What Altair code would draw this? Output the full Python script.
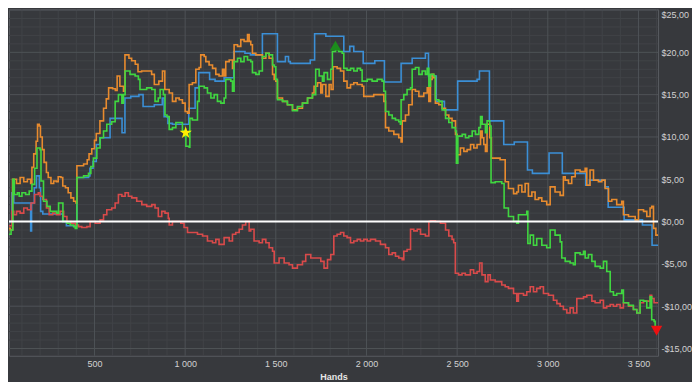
import altair as alt
import pandas as pd

# ---------------- data ----------------
blue_hands = [0, 45, 55, 148, 153, 168, 180, 196, 203, 215, 325, 345, 403, 468, 475, 492, 510, 530, 586,
              652, 668, 700, 745, 768, 830, 874, 884, 905, 930, 1020, 1055, 1075, 1135, 1165, 1215, 1268,
              1330, 1360, 1426, 1509, 1553, 1570, 1580, 1690, 1714, 1776, 1875, 1908, 1930, 1982, 2046,
              2099, 2191, 2252, 2325, 2342, 2385, 2430, 2503, 2610, 2623, 2678, 2757, 2815, 2888, 2915,
              3007, 3080, 3209, 3230, 3315, 3333, 3421, 3522, 3575, 3615]
blue_values = [0.0, 3.4, 2.2, -1.1, 2.2, 4.0, 5.4, 4.0, 1.2, 0.9, 0.0, -0.5, 5.2, 5.4, 6.3, 7.1, 9.1, 9.9, 12.2,
               10.5, 14.6, 14.8, 15.0, 13.6, 13.8, 14.6, 12.4, 11.6, 11.5, 13.4, 15.8, 17.6, 16.8, 16.6, 17.0, 20.1,
               19.9, 19.7, 22.2, 18.9, 19.5, 18.9, 18.7, 19.1, 22.2, 21.9, 20.1, 20.7, 20.1, 18.7, 19.0,
               16.5, 18.7, 19.3, 19.9, 17.2, 14.2, 13.2, 16.6, 16.8, 17.8, 11.9, 9.1, 9.4, 6.1, 5.7,
               8.1, 5.7, 4.3, 4.9, 4.1, 1.7, 0.2, -0.4, -2.8, -2.8]

orange_hands = [0, 15, 35, 48, 70, 90, 110, 130, 148, 155, 165, 178, 186, 195, 202, 212, 222, 235, 245, 260,
                275, 290, 300, 315, 325, 340, 355, 370, 385, 398, 403, 440, 460, 470, 485, 500, 510, 530, 550,
                565, 578, 600, 615, 625, 640, 660, 668, 690, 705, 725, 740, 760, 790, 815, 830, 855, 875, 888,
                912, 930, 949, 967, 985, 1000, 1013, 1022, 1040, 1059, 1077, 1086, 1105, 1114, 1132, 1151,
                1169, 1187, 1206, 1215, 1224, 1243, 1261, 1270, 1289, 1307, 1325, 1344, 1353, 1362, 1371,
                1390, 1408, 1426, 1445, 1463, 1482, 1491, 1500, 1509, 1537, 1564, 1592, 1619, 1647, 1675,
                1702, 1711, 1730, 1748, 1757, 1776, 1794, 1805, 1816, 1838, 1857, 1875, 1893, 1912, 1930,
                1949, 1976, 1985, 2013, 2040, 2077, 2096, 2105, 2123, 2151, 2178, 2191, 2197, 2215, 2233,
                2252, 2270, 2289, 2316, 2335, 2344, 2353, 2362, 2371, 2380, 2399, 2417, 2436, 2454, 2472,
                2491, 2500, 2518, 2537, 2555, 2574, 2592, 2610, 2629, 2638, 2647, 2656, 2665, 2680, 2689,
                2710, 2737, 2765, 2783, 2811, 2829, 2838, 2857, 2875, 2893, 2912, 2930, 2949, 2967, 2994,
                3013, 3040, 3068, 3086, 3096, 3114, 3132, 3151, 3178, 3206, 3215, 3233, 3252, 3279, 3298,
                3316, 3335, 3353, 3380, 3408, 3417, 3445, 3482, 3500, 3528, 3546, 3564, 3573, 3583, 3596,
                3615]
orange_values = [0.0, -0.8, -1.0, 5.0, 4.5, 5.2, 4.7, 5.0, 4.5, 6.4, 8.0, 9.5, 11.5, 11.3, 10.0, 8.5, 7.0, 5.8,
                 5.2, 4.5, 4.8, 4.7, 5.3, 5.2, 4.2, 4.0, 3.4, 2.8, 2.4, 2.2, 6.6, 6.8, 7.3, 8.0, 8.6, 9.6, 10.4,
                 11.9, 13.4, 14.5, 15.8, 15.7, 15.5, 17.2, 16.0, 15.4, 19.7, 19.3, 19.0, 18.6, 17.7, 17.8, 17.8,
                 17.4, 16.2, 16.6, 17.8, 15.6, 15.2, 14.2, 14.6, 14.4, 14.0, 13.0, 12.8, 16.2, 16.4, 18.0, 18.2,
                 19.7, 19.5, 18.9, 18.5, 18.1, 17.4, 17.2, 18.0, 17.2, 18.9, 19.1, 18.1, 20.9, 20.7, 21.5,
                 21.3, 22.1, 21.3, 20.9, 19.9, 19.7, 19.7, 19.3, 19.9, 19.3, 17.4, 16.8, 16.6, 14.6, 14.2,
                 13.8, 13.2, 13.4, 14.0, 14.6, 15.2, 16.0, 16.4, 15.2, 16.2, 14.8, 16.2, 15.6, 18.3, 18.1,
                 17.8, 16.6, 15.8, 16.2, 16.4, 16.2, 16.0, 14.8, 14.8, 15.0, 15.0, 14.2, 11.1, 10.7, 10.3,
                 9.9, 9.4, 11.9, 12.6, 13.8, 15.6, 15.4, 14.8, 15.2, 15.8, 14.2, 16.8, 17.4, 17.0, 14.0,
                 13.8, 13.4, 12.6, 12.2, 11.9, 10.3, 7.9, 8.7, 8.3, 8.5, 9.1, 8.7, 9.1, 10.7, 9.9, 9.1, 8.3,
                 11.5, 9.9, 7.5, 7.5, 7.3, 4.7, 3.9, 3.3, 3.5, 4.3, 3.5, 4.5, 3.0, 3.5, 2.6, 2.8, 2.4, 2.0,
                 4.1, 3.5, 3.1, 5.3, 4.9, 4.5, 5.3, 6.1, 5.9, 6.3, 4.3, 6.1, 4.9, 4.7, 4.9, 3.9, 2.4, 2.6,
                 2.0, 2.4, 0.8, 0.6, 0.2, 1.4, 1.2, 0.6, 1.6, 1.8, -0.8, -1.6, -1.6]

green_hands = [0, 15, 25, 40, 50, 58, 75, 85, 100, 120, 140, 155, 170, 183, 200, 205, 219, 238, 256, 292,
               302, 326, 348, 366, 385, 394, 403, 440, 467, 480, 494, 513, 531, 550, 568, 595, 614, 632,
               651, 660, 669, 696, 724, 742, 751, 788, 816, 834, 852, 862, 880, 889, 900, 912, 930, 949,
               976, 985, 1000, 1004, 1022, 1026, 1040, 1059, 1068, 1077, 1105, 1123, 1142, 1160, 1178,
               1197, 1215, 1224, 1252, 1261, 1270, 1289, 1307, 1325, 1344, 1362, 1371, 1390, 1408, 1426,
               1445, 1463, 1482, 1491, 1500, 1509, 1537, 1564, 1592, 1619, 1647, 1675, 1702, 1720, 1739,
               1757, 1766, 1785, 1803, 1812, 1829, 1847, 1866, 1875, 1893, 1912, 1930, 1949, 1967, 1976,
               2004, 2031, 2059, 2086, 2096, 2105, 2123, 2142, 2160, 2178, 2187, 2191, 2206, 2224, 2243,
               2252, 2270, 2289, 2307, 2325, 2335, 2344, 2353, 2371, 2380, 2399, 2417, 2436, 2454, 2472,
               2491, 2496, 2504, 2528, 2546, 2564, 2583, 2601, 2620, 2629, 2638, 2656, 2665, 2680, 2687,
               2710, 2746, 2759, 2783, 2811, 2829, 2838, 2866, 2884, 2890, 2903, 2921, 2939, 2967, 2994,
               3013, 3040, 3068, 3077, 3096, 3123, 3141, 3151, 3178, 3197, 3206, 3224, 3243, 3261, 3289,
               3307, 3325, 3344, 3362, 3380, 3408, 3417, 3445, 3472, 3491, 3509, 3528, 3546, 3564, 3573,
               3586, 3592, 3615]
green_values = [-0.3, -1.0, -1.5, -1.0, 5.0, 3.2, 3.4, 3.0, 3.4, 3.2, 3.6, 4.4, 6.3, 8.7, 8.5, 4.8, 2.4, 1.8,
                1.2, 1.0, 2.2, 0.0, -0.2, -0.4, -0.6, -0.8, 5.2, 5.4, 5.7, 6.5, 7.5, 8.7, 9.9, 10.7, 11.5,
                11.8, 14.2, 15.0, 14.0, 15.0, 17.8, 17.4, 17.2, 16.8, 15.6, 15.8, 15.6, 14.2, 14.6, 15.6,
                15.0, 12.6, 12.4, 10.9, 11.1, 11.7, 11.7, 10.7, 10.1, 8.9, 8.8, 12.2, 12.0, 12.0, 14.2,
                16.0, 15.8, 15.2, 14.6, 15.0, 14.2, 14.0, 14.6, 16.8, 16.6, 15.4, 18.9, 19.3, 18.9, 19.5,
                19.1, 18.9, 17.6, 17.4, 17.8, 19.5, 19.9, 19.7, 18.5, 18.3, 16.8, 14.4, 14.2, 13.8, 13.1,
                13.6, 14.0, 14.6, 15.0, 18.0, 17.2, 16.6, 17.6, 16.8, 18.0, 20.1, 20.3, 20.1, 19.9, 18.1,
                17.9, 18.1, 17.8, 18.1, 17.9, 16.6, 16.8, 16.6, 16.8, 16.6, 15.4, 13.0, 12.6, 12.2, 12.0,
                11.8, 11.5, 14.4, 15.0, 15.6, 15.8, 18.0, 18.2, 17.4, 17.8, 17.4, 18.1, 16.0, 17.4, 17.2,
                14.4, 14.2, 13.2, 12.2, 11.7, 11.1, 10.7, 6.9, 10.1, 10.3, 9.9, 10.1, 10.7, 10.3, 11.1,
                12.4, 11.5, 10.5, 11.9, 11.3, 4.6, 4.7, 4.5, 1.6, 0.6, 0.0, -0.2, 0.8, 0.8, 1.2, -2.6,
                -1.6, -2.8, -2.0, -2.8, -3.1, -1.0, -1.6, -2.4, -4.3, -4.7, -4.9, -5.1, -3.7, -3.9, -3.5,
                -4.3, -3.9, -4.7, -5.3, -5.5, -4.7, -5.9, -8.3, -8.7, -8.5, -8.1, -9.6, -9.9, -10.4,
                -10.8, -9.3, -9.4, -10.2, -8.9, -11.6, -11.8, -12.6, -12.6]

red_hands = [0, 20, 45, 55, 70, 90, 110, 130, 150, 170, 190, 200, 215, 235, 250, 270, 290, 310, 330, 348,
             370, 394, 412, 430, 458, 476, 504, 531, 550, 568, 595, 614, 632, 651, 669, 687, 706, 733, 761,
             788, 816, 834, 852, 871, 889, 907, 912, 930, 976, 994, 1013, 1068, 1096, 1123, 1151, 1169,
             1187, 1215, 1243, 1261, 1279, 1298, 1316, 1334, 1353, 1362, 1380, 1408, 1426, 1445, 1463,
             1482, 1491, 1518, 1546, 1573, 1592, 1619, 1647, 1665, 1693, 1720, 1748, 1766, 1785, 1803,
             1820, 1838, 1857, 1875, 1893, 1912, 1930, 1949, 1967, 1985, 2004, 2022, 2050, 2077, 2105,
             2123, 2142, 2160, 2178, 2197, 2206, 2224, 2243, 2261, 2280, 2298, 2325, 2344, 2353, 2380,
             2408, 2427, 2436, 2454, 2472, 2481, 2490, 2508, 2527, 2545, 2573, 2591, 2610, 2624, 2637,
             2655, 2670, 2683, 2710, 2746, 2765, 2783, 2811, 2829, 2838, 2866, 2884, 2903, 2921, 2939,
             2958, 2976, 3004, 3031, 3050, 3068, 3086, 3105, 3123, 3141, 3160, 3178, 3197, 3215, 3243,
             3261, 3289, 3307, 3325, 3344, 3362, 3380, 3399, 3417, 3445, 3472, 3491, 3509, 3528, 3546,
             3564, 3573, 3586, 3615]
red_values = [0.0, -0.5, 1.2, 0.8, 1.2, 1.0, 1.6, 1.4, 2.2, 3.2, 3.4, 3.0, 2.6, 1.6, 0.8, 1.0, 0.8, 1.2, 0.6,
              0.0, -0.2, -0.4, -0.6, -0.7, -0.6, 0.0, -0.2, 0.2, 0.8, 1.4, 1.6, 2.2, 3.2, 3.0, 3.4, 3.0,
              2.8, 2.4, 2.0, 1.8, 2.0, 1.6, 0.6, 1.2, 1.0, 0.4, -0.4, 0.0, -0.2, -0.7, -1.3, -1.5, -1.7,
              -2.3, -2.5, -2.1, -2.7, -1.9, -2.3, -1.5, -1.3, -0.9, -0.4, 0.0, -1.1, -0.9, -2.3, -2.5,
              -2.1, -2.5, -3.1, -3.5, -4.9, -4.3, -4.9, -5.1, -5.5, -5.1, -4.7, -3.9, -4.3, -4.3, -4.7,
              -5.5, -4.5, -3.9, -1.7, -1.5, -1.3, -1.7, -1.9, -2.5, -2.3, -2.1, -2.3, -2.1, -2.3, -2.1,
              -2.3, -2.7, -3.1, -3.9, -3.7, -4.1, -4.3, -4.5, -3.5, -3.3, -0.9, -1.1, -0.9, -1.5, -1.7,
              0.0, 0.1, 0.0, -0.2, -0.2, -1.0, -1.7, -2.1, -2.5, -6.1, -6.3, -6.1, -6.3, -5.7, -6.1,
              -5.9, -4.9, -6.3, -7.1, -6.3, -6.9, -7.1, -7.5, -7.7, -7.9, -8.5, -9.4, -8.5, -8.7, -8.3,
              -7.7, -8.3, -7.9, -7.7, -8.5, -8.7, -9.3, -9.7, -10.0, -10.4, -10.8, -10.2, -10.8, -9.1,
              -9.1, -8.9, -8.7, -9.4, -9.6, -9.3, -10.2, -10.0, -9.8, -10.0, -9.8, -10.2, -9.6, -10.0,
              -10.4, -10.8, -9.6, -9.4, -9.4, -8.7, -9.1, -9.6, -9.6]

# markers: (hands, value)
star_hands = [1003]
star_values = [10.5]
peak_hands = [1829]
peak_values = [20.8]
low_hands = [3600]
low_values = [-12.9]

# axis ticks / grid
x_major = [500, 1000, 1500, 2000, 2500, 3000, 3500]
x_minor = [100, 200, 300, 400, 600, 700, 800, 900, 1100, 1200, 1300, 1400, 1600, 1700, 1800, 1900,
           2100, 2200, 2300, 2400, 2600, 2700, 2800, 2900, 3100, 3200, 3300, 3400, 3600]
y_major = [-15, -10, -5, 0, 5, 10, 15, 20, 25]
y_minor = [-14, -13, -12, -11, -9, -8, -7, -6, -4, -3, -2, -1, 1, 2, 3, 4, 6, 7, 8, 9,
           11, 12, 13, 14, 16, 17, 18, 19, 21, 22, 23, 24]
zero_line = [0]

# ---------------- styling ----------------
BG = "#37393d"
MINOR = "#404347"
MAJOR = "#4e5256"
FRAME = "#585b60"
TXT = "#d2d2d2"
FONT = "Liberation Sans Narrow, Liberation Sans, sans-serif"
STAR = ("M0,-1L0.2245,-0.309L0.951,-0.309L0.363,0.118L0.588,0.809L0,0.382"
        "L-0.588,0.809L-0.363,0.118L-0.951,-0.309L-0.2245,-0.309Z")

x_scale = alt.Scale(domain=[28.6, 3608], nice=False, zero=False)
y_scale = alt.Scale(domain=[-15.86, 25.09], nice=False, zero=False)

x_axis = alt.Axis(orient="bottom", values=x_major,
                  labelExpr="replace(format(datum.value, ','), ',', ' ')",
                  grid=False, ticks=False, domain=False, labelColor=TXT, labelFont=FONT,
                  labelFontSize=9, labelPadding=4, labelFlush=False, title="Hands", titleFont=FONT,
                  titleFontSize=9, titleFontWeight="bold", titleColor="#e6e6e6", titlePadding=4)
y_axis = alt.Axis(orient="right", values=y_major,
                  labelExpr="(datum.value < 0 ? '-' : '') + '$' + replace(format(abs(datum.value), '.2f'), '.', ',')",
                  grid=False, ticks=False, domain=False, labelColor=TXT, labelFont=FONT,
                  labelFontSize=9, labelPadding=3, labelFlush=True, title=None)


def xenc(field):
    return alt.X(f"{field}:Q", scale=x_scale, axis=x_axis)


def yenc(field):
    return alt.Y(f"{field}:Q", scale=y_scale, axis=y_axis)


def series(hands, values, color):
    df = pd.DataFrame({"hand": hands, "value": values})
    return alt.Chart(df).mark_line(interpolate="step-after", strokeWidth=1.6, color=color,
                                   clip=True).encode(x=xenc("hand"), y=yenc("value"))


def marker(hands, values, shape, color, size):
    df = pd.DataFrame({"hand": hands, "value": values})
    return alt.Chart(df).mark_point(shape=shape, filled=True, size=size, color=color,
                                    opacity=1).encode(x=xenc("hand"), y=yenc("value"))


grid_x_minor = alt.Chart(pd.DataFrame({"hand": x_minor})).mark_rule(color=MINOR, strokeWidth=1).encode(x=xenc("hand"))
grid_y_minor = alt.Chart(pd.DataFrame({"value": y_minor})).mark_rule(color=MINOR, strokeWidth=1).encode(y=yenc("value"))
grid_x_major = alt.Chart(pd.DataFrame({"hand": x_major})).mark_rule(color=MAJOR, strokeWidth=1).encode(x=xenc("hand"))
grid_y_major = alt.Chart(pd.DataFrame({"value": y_major})).mark_rule(color=MAJOR, strokeWidth=1).encode(y=yenc("value"))

blue = series(blue_hands, blue_values, "#3b8fd6")
orange = series(orange_hands, orange_values, "#e88b2e")
red = series(red_hands, red_values, "#d94a4a")
green = series(green_hands, green_values, "#40d640")

zero = alt.Chart(pd.DataFrame({"value": zero_line})).mark_rule(color="#ffffff", strokeWidth=2).encode(y=yenc("value"))

star = marker(star_hands, star_values, STAR, "#ffee00", 170)
peak = marker(peak_hands, peak_values, "triangle-up", "#1c8c1c", 130)
low = marker(low_hands, low_values, "triangle-down", "#ee1111", 130)

chart = alt.layer(
    grid_x_minor, grid_y_minor, grid_x_major, grid_y_major,
    blue, orange, red, green, zero, star, peak, low
).properties(
    width=650, height=347, background=BG, padding=0
).configure_view(stroke=FRAME, strokeWidth=1)

chart.save("out.html", embed_options={"renderer": "svg", "actions": False})
